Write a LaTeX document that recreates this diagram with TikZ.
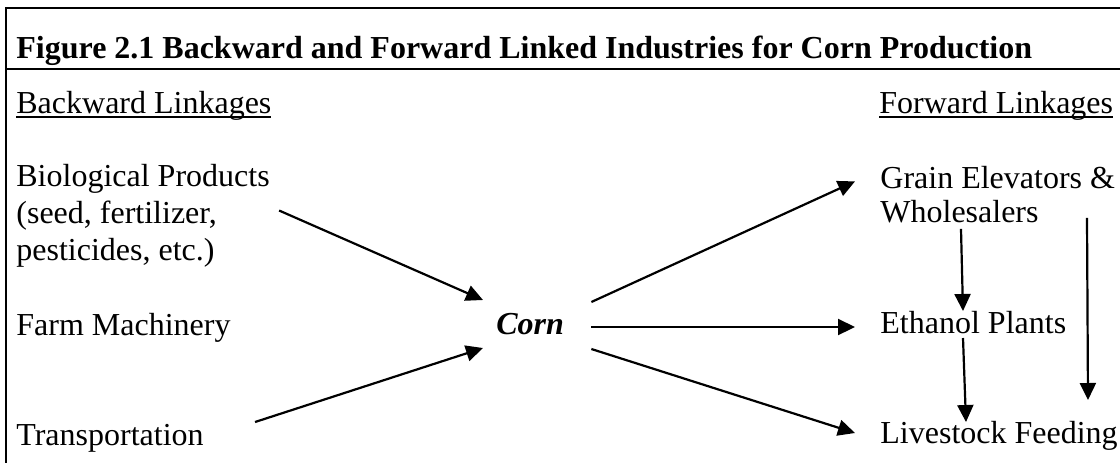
\documentclass[tikz,border=0pt]{standalone}
\usepackage{fontspec}
\setmainfont{Liberation Serif}
\usetikzlibrary{arrows.meta}
\newcommand{\lnkhead}[1]{\sbox0{#1}\rlap{\rule[-2.3pt]{\wd0}{0.9pt}}\usebox0}

\begin{document}
\begin{tikzpicture}[x=0.5pt,y=-0.5pt,
        txt/.style={inner sep=0pt,anchor=base west,align=left,font=\fontsize{16pt}{18.4pt}\selectfont},
        link/.style={line width=1.1pt,-{Triangle[length=8.5pt,width=8pt]}}]
        \useasboundingbox (0,0) rectangle (1120,462);
        \clip (0,0) rectangle (1120,462);
        \draw[line width=1pt] (6,470)--(6,8)--(1130,8);
        \draw[line width=1pt] (6,69)--(1130,69);
        \node[txt,font=\fontsize{16pt}{18.4pt}\selectfont\bfseries] (title) at (16,58) {Figure 2.1 Backward and Forward Linked Industries for Corn Production};
        \node[txt] (back) at (16,113) {\lnkhead{Backward Linkages}};
        \node[txt] (fwd) at (879,113) {\lnkhead{Forward Linkages}};
        \node[txt] (bio) at (16,260) {Biological Products\\(seed, fertilizer,\\pesticides, etc.)};
        \node[txt] (farm) at (16,335) {Farm Machinery};
        \node[txt] (trans) at (16,445) {Transportation};
        \node[txt,font=\fontsize{16pt}{18.4pt}\selectfont\bfseries\itshape] (corn) at (496,334) {Corn};
        \node[txt] (grain) at (880,222) {Grain Elevators \&\\[-1.4pt]Wholesalers};
        \node[txt] (eth) at (880,333) {Ethanol Plants};
        \node[txt] (live) at (880,443) {Livestock Feeding};
        \draw[link] ([shift={(9,-5)}]bio.east)--([shift={(-13,-34)}]corn.base west);
        \draw[link] ([shift={(51,-23)}]trans.base east)--([shift={(-13,14)}]corn.base west);
        \draw[link] ([shift={(27,-32)}]corn.base east)--([shift={(-25,16)}]grain.north west);
        \draw[link] ([shift={(27,-7)}]corn.base east)--([shift={(-25,-6)}]eth.base west);
        \draw[link] ([shift={(27,15)}]corn.base east)--([shift={(-25,-10)}]live.base west);
        \draw[link] ([shift={(81,6)}]grain.south west)--([shift={(83,-22)}]eth.base west);
        \draw[link] ([shift={(83,5)}]eth.base west)--([shift={(86,-21)}]live.base west);
        \draw[link] ([shift={(207,-5)}]grain.south west)--([shift={(208,-43)}]live.base west);
\end{tikzpicture}
\end{document}
